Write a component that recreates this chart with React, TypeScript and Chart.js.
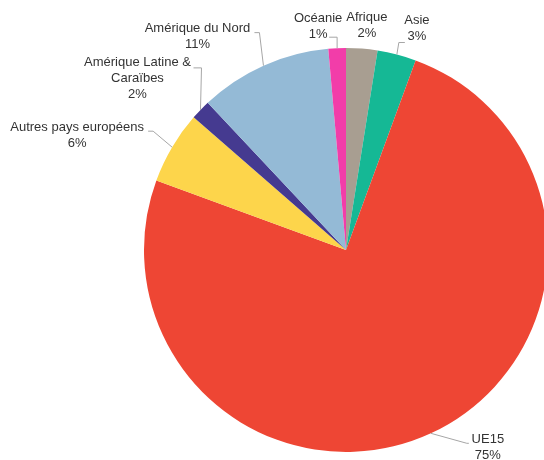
import React, { useEffect, useRef } from "react";
import { Chart, registerables } from "chart.js";

Chart.register(...registerables);

const regions = ["Afrique", "Asie", "UE15", "Autres pays européens", "Amérique Latine & Caraïbes", "Amérique du Nord", "Océanie"];
const labelLines = [["Afrique"], ["Asie"], ["UE15"], ["Autres pays européens"], ["Amérique Latine &", "Caraïbes"], ["Amérique du Nord"], ["Océanie"]];
const shares = [2.5, 3.1, 75.0, 5.8, 1.6, 10.6, 1.4];
const percentLabels = ["2%", "3%", "75%", "6%", "2%", "11%", "1%"];
const colors = ["#A89E91", "#15B895", "#EE4634", "#FDD54B", "#453A90", "#94BAD6", "#F23DA9"];

// label layout: text block centre offset from the slice's outer edge point, and leader elbow/end offsets
const labelLayout = [
  { tx: 5, ty: -23, line: null },
  { tx: 20, ty: -26, line: [[2, -12], [8, -12]] },
  { tx: 57, ty: 14, line: [[36, 10], [38, 10]] },
  { tx: -95, ty: -12, line: [[-19, -16], [-24, -16]] },
  { tx: -63, ty: -31, line: [[1, -42], [-7, -42]] },
  { tx: -66, ty: -29, line: [[-4, -33], [-9, -33]] },
  { tx: -19, ty: -22, line: [[0, -11], [-8, -11]] },
];

const labelPlugin = {
  id: "pieLabels",
  afterDraw(chart: any) {
    const ctx = chart.ctx;
    const meta = chart.getDatasetMeta(0);
    ctx.save();
    ctx.font = "13px 'Liberation Sans', Arial, Helvetica, sans-serif";
    ctx.textAlign = "center";
    ctx.textBaseline = "middle";
    meta.data.forEach((arc: any, i: number) => {
      const { x, y, outerRadius, startAngle, endAngle } = arc.getProps(["x", "y", "outerRadius", "startAngle", "endAngle"], true);
      const mid = (startAngle + endAngle) / 2;
      const ex = x + outerRadius * Math.cos(mid);
      const ey = y + outerRadius * Math.sin(mid);
      const lay = labelLayout[i];
      if (lay.line) {
        ctx.strokeStyle = "#A6A6A6";
        ctx.lineWidth = 1;
        ctx.beginPath();
        ctx.moveTo(ex, ey);
        lay.line.forEach((p) => ctx.lineTo(ex + p[0], ey + p[1]));
        ctx.stroke();
      }
      const lines = [...labelLines[i], percentLabels[i]];
      const lh = 16;
      const cx = ex + lay.tx;
      const cy = ey + lay.ty;
      const top = cy - ((lines.length - 1) * lh) / 2;
      ctx.fillStyle = "#333333";
      lines.forEach((t, k) => ctx.fillText(t, cx, top + k * lh));
    });
    ctx.restore();
  },
};

export default function App() {
  const ref = useRef<HTMLCanvasElement | null>(null);
  useEffect(() => {
    if (!ref.current) return;
    const chart = new Chart(ref.current, {
      type: "pie",
      data: {
        labels: regions,
        datasets: [
          {
            data: shares,
            backgroundColor: colors,
            borderWidth: 0,
          },
        ],
      },
      options: {
        responsive: false,
        animation: false,
        rotation: 0,
        layout: { padding: { left: 144, right: 52, top: 48, bottom: 8 } },
        plugins: { legend: { display: false }, tooltip: { enabled: false } },
      },
      plugins: [labelPlugin],
    });
    return () => chart.destroy();
  }, []);
  return (
    <div style={{ position: "fixed", left: 0, top: 0, width: 544, height: 460, overflow: "hidden", background: "#fff" }}>
      <canvas ref={ref} width={600} height={460} style={{ width: 600, height: 460, display: "block" }} />
    </div>
  );
}
